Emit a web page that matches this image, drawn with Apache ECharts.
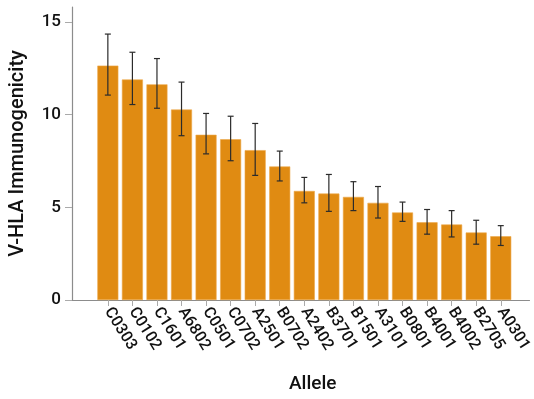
<!DOCTYPE html>
<html>
<head>
<meta charset="utf-8">
<script src="https://cdn.jsdelivr.net/npm/echarts@6/dist/echarts.min.js"></script>
<style>
  html, body { margin: 0; padding: 0; background: #fff; }
  #chart { width: 534px; height: 399px; }
</style>
</head>
<body>
<div id="chart"></div>
<script>
// HLA alleles ranked by mean V-HLA immunogenicity
const alleles = ['C0303', 'C0102', 'C1601', 'A6802', 'C0501', 'C0702', 'A2501', 'B0702',
  'A2402', 'B3701', 'B1501', 'A3101', 'B0801', 'B4001', 'B4002', 'B2705', 'A0301'];
const meanValues = [12.64, 11.89, 11.63, 10.27, 8.91, 8.67, 8.08, 7.20,
  5.88, 5.74, 5.56, 5.24, 4.72, 4.19, 4.07, 3.64, 3.44];
const errLow = [11.05, 10.54, 10.34, 8.86, 7.88, 7.51, 6.72, 6.42,
  5.24, 4.78, 4.82, 4.42, 4.24, 3.55, 3.40, 3.01, 2.94];
const errHigh = [14.34, 13.36, 13.02, 11.75, 10.06, 9.91, 9.52, 8.03,
  6.61, 6.77, 6.38, 6.12, 5.28, 4.88, 4.82, 4.30, 4.01];
const yTicks = [0, 5, 10, 15];

const positions = alleles.map((_, i) => i);
const barData = meanValues.map((v, i) => [i, v]);
const errData = alleles.map((_, i) => [i, errLow[i], errHigh[i]]);

const FONT = 'Roboto';
const chart = echarts.init(document.getElementById('chart'), null, { renderer: 'canvas' });

chart.setOption({
  animation: false,
  backgroundColor: '#ffffff',
  grid: { left: 71.5, right: 0, top: 7, bottom: 96.7, containLabel: false },
  xAxis: {
    type: 'value',
    min: -1.46,
    max: 17.17,
    name: 'Allele',
    nameLocation: 'middle',
    nameGap: 75,
    nameTextStyle: { fontFamily: FONT, fontSize: 19, fontWeight: 500, color: '#111', padding: [0, 0, 0, 24] },
    axisLine: { onZero: false, lineStyle: { color: '#8c8c8c', width: 1.2 } },
    axisTick: { customValues: positions, length: 6, lineStyle: { color: '#aaaaaa' } },
    axisLabel: {
      customValues: positions,
      formatter: (v) => alleles[Math.round(v)] || '',
      rotate: -58,
      margin: 9,
      fontFamily: FONT,
      fontSize: 16,
      fontWeight: 500,
      color: '#111'
    },
    splitLine: { show: false }
  },
  yAxis: {
    type: 'value',
    min: 0,
    max: 15.8,
    name: 'V-HLA Immunogenicity',
    nameLocation: 'middle',
    nameGap: 44,
    nameTextStyle: { fontFamily: FONT, fontSize: 20, fontWeight: 500, color: '#111' },
    axisLine: { show: true, onZero: false, lineStyle: { color: '#8c8c8c', width: 1.2 } },
    axisTick: { show: true, customValues: yTicks, length: 7, lineStyle: { color: '#aaaaaa' } },
    axisLabel: { customValues: yTicks, margin: 11, fontFamily: FONT, fontSize: 17, fontWeight: 500, color: '#111' },
    splitLine: { show: false }
  },
  series: [
    {
      type: 'bar',
      data: barData,
      barWidth: 21,
      itemStyle: { color: '#E08B12', borderColor: '#EDA74A', borderWidth: 0.6 }
    },
    {
      type: 'custom',
      data: errData,
      z: 10,
      renderItem: function (params, api) {
        const x = api.value(0);
        const lo = api.coord([x, api.value(1)]);
        const hi = api.coord([x, api.value(2)]);
        const cap = 3;
        const style = { stroke: '#2b2b2b', lineWidth: 1.2 };
        return {
          type: 'group',
          children: [
            { type: 'line', shape: { x1: lo[0], y1: lo[1], x2: hi[0], y2: hi[1] }, style },
            { type: 'line', shape: { x1: hi[0] - cap, y1: hi[1], x2: hi[0] + cap, y2: hi[1] }, style },
            { type: 'line', shape: { x1: lo[0] - cap, y1: lo[1], x2: lo[0] + cap, y2: lo[1] }, style }
          ]
        };
      }
    }
  ]
});
</script>
</body>
</html>
